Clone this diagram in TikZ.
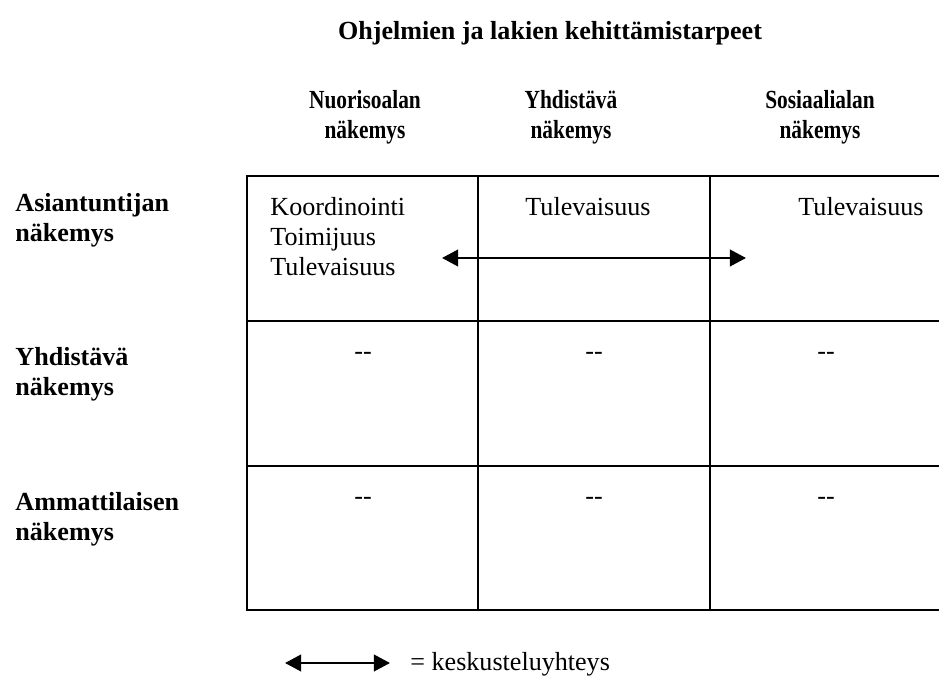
\documentclass[tikz,border=0pt]{standalone}
\usepackage{fontspec}
\setmainfont{Liberation Serif}
\newfontfamily\headfont{Liberation Serif}[FakeStretch=0.82]
\usetikzlibrary{arrows.meta}

\newcommand{\tabfont}{\fontsize{12}{13.7}\selectfont}

\begin{document}
\begin{tikzpicture}[x=0.46pt,y=-0.46pt,
        head/.style={font=\tabfont\headfont\bfseries, align=center, anchor=north, inner sep=0pt},
        rowlabel/.style={font=\tabfont\bfseries, align=left, anchor=north west, inner sep=0pt},
        cell/.style={font=\tabfont, align=left, anchor=north west, inner sep=0pt},
        nothing/.style={font=\tabfont, anchor=base, inner sep=0pt},
        rule/.style={line width=0.75pt},
        talk/.style={{Triangle[length=7.4pt,width=7.6pt]}-{Triangle[length=7.4pt,width=7.6pt]}, line width=1.1pt}]
    \useasboundingbox (0,0) rectangle (939,681);

    % otsikot
    \node[head, font=\tabfont\bfseries] (title) at (550,21) {Ohjelmien ja lakien kehittämistarpeet};
    \node[head] (nuoriso) at (365,90) {Nuorisoalan\\näkemys};
    \node[head] (yhd) at (571,90) {Yhdistävä\\näkemys};
    \node[head] (sosiaali) at (820,90) {Sosiaalialan\\näkemys};

    \node[rowlabel] (asiantuntija) at (15,193) {Asiantuntijan\\näkemys};
    \node[rowlabel] (yhdrivi) at (15,347) {Yhdistävä\\näkemys};
    \node[rowlabel] (ammatti) at (15,492) {Ammattilaisen\\näkemys};

    % taulukko
    \draw[rule] (939,176) -- (247,176) -- (247,610) -- (939,610);
    \draw[rule] (247,321) -- (939,321);
    \draw[rule] (247,466) -- (939,466);
    \draw[rule] (478,176) -- (478,610);
    \draw[rule] (710,176) -- (710,610);

    % solut
    \node[cell] (c11) at (270,197) {Koordinointi\\Toimijuus\\Tulevaisuus};
    \node[cell] (c12) at (525,197) {Tulevaisuus};
    \node[cell] (c13) at (798,197) {Tulevaisuus};

    \node[nothing] (c21) at (363,360) {-{}-};
    \node[nothing] (c22) at (594,360) {-{}-};
    \node[nothing] (c23) at (826,360) {-{}-};
    \node[nothing] (c31) at (363,504) {-{}-};
    \node[nothing] (c32) at (594,504) {-{}-};
    \node[nothing] (c33) at (826,504) {-{}-};

    \coordinate (kl) at (442,258);
    \coordinate (kr) at (746,258);
    \draw[talk] (kl) -- (kr);

    % selite
    \coordinate (sl) at (285,663);
    \coordinate (sr) at (390,663);
    \draw[talk] (sl) -- (sr);
    \node[cell, anchor=base west] (selite) at (410,670) {= keskusteluyhteys};
\end{tikzpicture}
\end{document}
